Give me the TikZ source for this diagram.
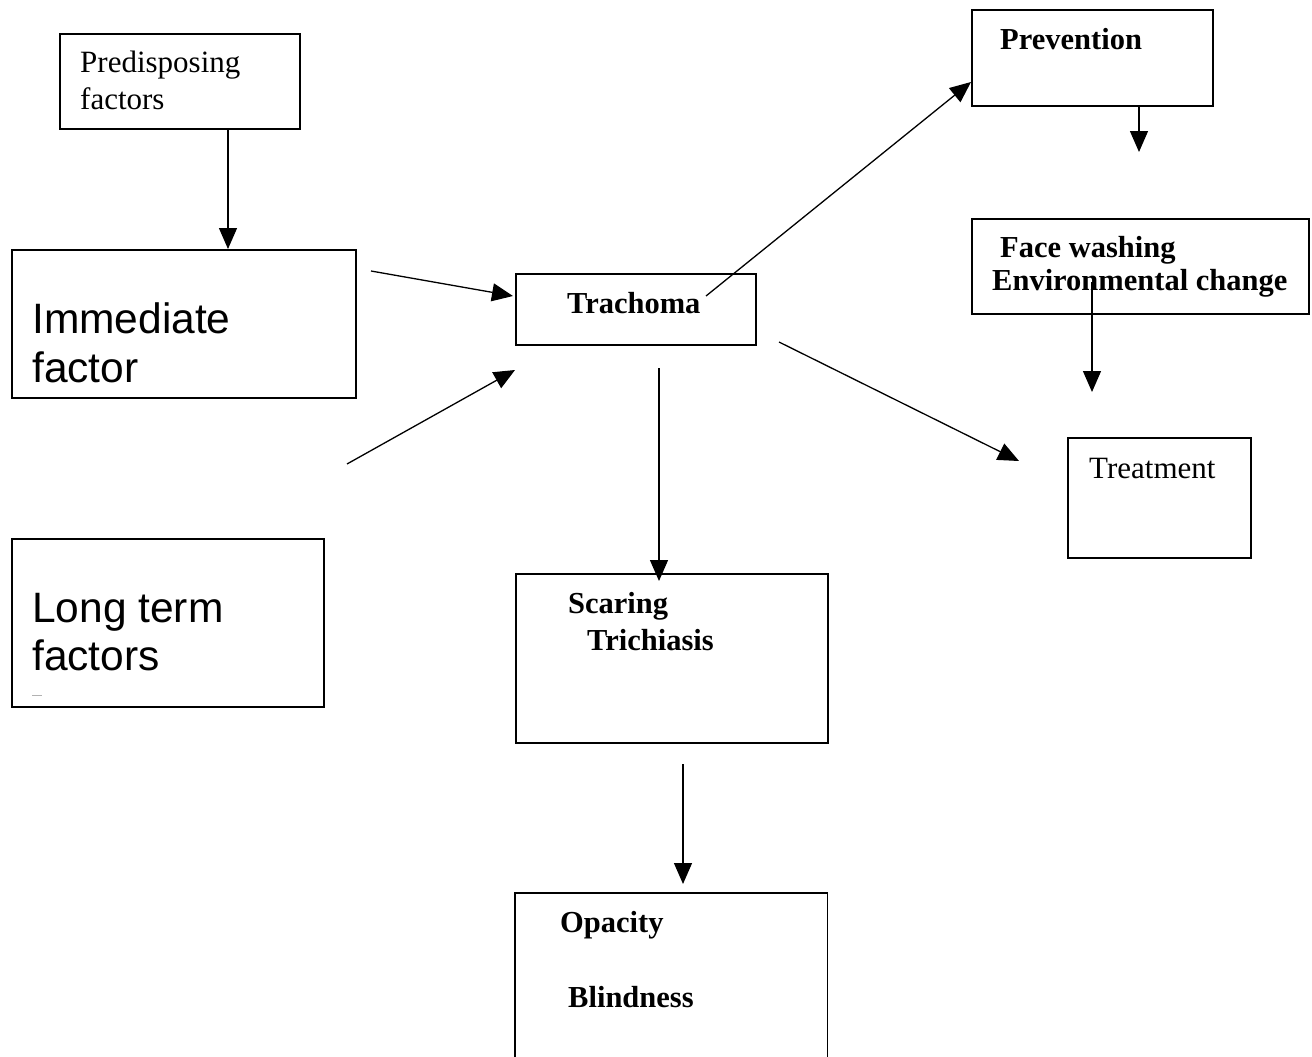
\documentclass[tikz,border=0pt]{standalone}
\usepackage{fontspec}
\setmainfont{Liberation Serif}
\newfontfamily\arialfont{Liberation Sans}
\usetikzlibrary{arrows.meta}
\tikzset{
  box/.style={draw, line width=1.7pt, inner sep=0pt, anchor=north west},
  conn/.style={line width=1.3pt, -{Triangle[length=21pt,width=18pt]}},
  serif/.style={anchor=base west, inner sep=0pt, font=\fontsize{31}{36}\selectfont},
  bserif/.style={anchor=base west, inner sep=0pt, font=\fontsize{30.5}{35}\selectfont\bfseries},
  sans/.style={anchor=base west, inner sep=0pt, font=\arialfont\fontsize{42.5}{48}\selectfont}
}
\begin{document}
\begin{tikzpicture}[x=1pt,y=-1pt]
\useasboundingbox[fill=white] (0,0) rectangle (1312,1057);
% boxes
\node[box, minimum width=240pt, minimum height=95pt] (pred) at (59,33) {};
\node[box, minimum width=344pt, minimum height=148pt] (imm) at (11,249) {};
\node[box, minimum width=312pt, minimum height=168pt] (long) at (11,538) {};
\node[box, minimum width=240pt, minimum height=71pt] (trach) at (515,273) {};
\node[box, minimum width=241pt, minimum height=96pt] (prev) at (971,9) {};
\node[box, minimum width=337pt, minimum height=95pt] (face) at (971,218) {};
\node[box, minimum width=183pt, minimum height=120pt] (treat) at (1067,437) {};
\node[box, minimum width=312pt, minimum height=169pt] (scar) at (515,573) {};
\node[inner sep=0pt, anchor=north west, minimum width=312pt, minimum height=170pt] (opac) at (515,893) {};
\draw[line width=1.7pt] (opac.south west) -- (opac.north west) -- (opac.north east) -- (opac.south east);
% texts
\node[serif] (t1) at (80,73) {Predisposing};
\node[serif] (t2) at (80,109) {factors};
\node[sans] (t3) at (32,333) {Immediate};
\node[sans] (t4) at (32,382) {factor};
\node[sans] (t5) at (32,622) {Long term};
\node[sans] (t6) at (32,670) {factors};
\draw[gray!60, line width=1pt] (32,695) -- (42,695);
\node[bserif] (t7) at (567,313) {Trachoma};
\node[bserif] (t8) at (1000,50) {Prevention};
\node[bserif] (t9) at (1000,257) {Face washing};
\node[bserif] (t10) at (992,290) {Environmental change};
\node[serif] (t11) at (1089,478) {Treatment};
\node[bserif] (t12) at (568,613) {Scaring};
\node[bserif] (t13) at (587,650) {Trichiasis};
\node[bserif] (t14) at (560,932) {Opacity};
\node[bserif] (t15) at (568,1007) {Blindness};
% connector end points
\coordinate (a1s) at (228,128); \coordinate (a1e) at (228,249);
\coordinate (a2s) at (371,271); \coordinate (a2e) at (513,296);
\coordinate (a3s) at (347,464); \coordinate (a3e) at (515,370);
\coordinate (a4s) at (706,296); \coordinate (a4e) at (971,82);
\coordinate (a5s) at (779,342); \coordinate (a5e) at (1019,461);
\coordinate (a6s) at (659,368); \coordinate (a6e) at (659,581);
\coordinate (a7s) at (683,764); \coordinate (a7e) at (683,884);
\coordinate (a8s) at (1139,105); \coordinate (a8e) at (1139,152);
\coordinate (a9s) at (1092,282); \coordinate (a9e) at (1092,392);
% connectors
\draw[conn] (a1s) -- (a1e);
\draw[conn] (a2s) -- (a2e);
\draw[conn] (a3s) -- (a3e);
\draw[conn] (a4s) -- (a4e);
\draw[conn] (a5s) -- (a5e);
\draw[conn] (a6s) -- (a6e);
\draw[conn] (a7s) -- (a7e);
\draw[conn] (a8s) -- (a8e);
\draw[conn] (a9s) -- (a9e);
\end{tikzpicture}
\end{document}
